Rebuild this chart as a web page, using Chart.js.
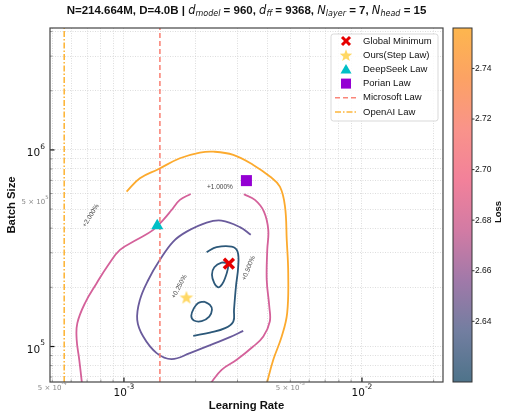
<!DOCTYPE html>
<html>
<head>
<meta charset="utf-8">
<script src="https://cdn.jsdelivr.net/npm/chart.js@4.4.0/dist/chart.umd.min.js"></script>
<style>
  body { margin: 0; background: #fff; }
  #wrap { position: relative; width: 505px; height: 418px; }
  #title { position: absolute; left: 50px; width: 393px; top: 3px; text-align: center; white-space: nowrap;
           font: bold 11.5px "Liberation Sans", Arial, sans-serif; color: #111; }
  #title i { font-family: "DejaVu Sans", sans-serif; font-weight: normal; }
  #title sub { font-size: 8px; vertical-align: -2px; line-height: 0; }
  canvas { position: absolute; left: 0; top: 0; }
</style>
</head>
<body>
<div id="wrap">
  <canvas id="chart" width="505" height="418"></canvas>
  <div id="title">N=214.664M, D=4.0B | <i>d</i><sub><i>model</i></sub> = 960, <i>d</i><sub><i>ff</i></sub> = 9368, <i>N</i><sub><i>layer</i></sub> = 7, <i>N</i><sub><i>head</i></sub> = 15</div>
</div>
<script>
// ---------- AXES ----------
const xRange = [4.89e-4, 2.19e-2];
const yRange = [6.6e4, 4.17e6];
const xGridTicks = [5e-4, 6e-4, 7e-4, 8e-4, 9e-4, 1e-3, 2e-3, 3e-3, 4e-3, 5e-3, 6e-3, 7e-3, 8e-3, 9e-3, 1e-2, 2e-2];
const yGridTicks = [7e4, 8e4, 9e4, 1e5, 2e5, 3e5, 4e5, 5e5, 6e5, 7e5, 8e5, 9e5, 1e6, 2e6, 3e6, 4e6];
const xMajorTicks = [1e-3, 1e-2];
const yMajorTicks = [1e5, 1e6];
const xMinorLabels = [5e-4, 5e-3];
const yMinorLabels = [5e5];

// ---------- COLORBAR ----------
const lossRange = [2.616, 2.756];
const lossTicks = [2.64, 2.66, 2.68, 2.70, 2.72, 2.74];

// ---------- CONTOURS (learning rate / batch size) ----------
const lr2pct = [1.026e-3, 1.167e-3, 1.393e-3, 1.718e-3, 2.085e-3, 2.372e-3, 2.879e-3, 3.493e-3, 4.105e-3, 4.52e-3, 4.75e-3, 4.83e-3, 4.9e-3, 4.85e-3, 4.6e-3, 4.24e-3, 3.97e-3];
const bs2pct = [6.14e5, 7.18e5, 7.98e5, 9.07e5, 9.69e5, 9.8e5, 9.44e5, 8.39e5, 7.32e5, 6.5e5, 5.15e5, 3.49e5, 2.36e5, 1.479e5, 1.124e5, 8.56e4, 6.4e4];

const lr1pctLeft = [1.906e-3, 1.718e-3, 1.586e-3, 1.463e-3, 1.328e-3, 1.13e-3, 9.62e-4, 8.59e-4, 7.68e-4, 6.86e-4, 6.37e-4, 6.33e-4, 6.49e-4, 6.67e-4];
const bs1pctLeft = [5.97e5, 5.57e5, 4.95e5, 4.41e5, 3.92e5, 3.49e5, 3.1e5, 2.6e5, 2.1e5, 1.663e5, 1.315e5, 1.082e5, 8.56e4, 6.4e4];
const lr1pctRight = [3.19e-3, 3.55e-3, 3.874e-3, 4.04e-3, 4.0e-3, 3.98e-3, 4.08e-3, 4.1e-3, 3.85e-3, 3.49e-3, 2.976e-3, 2.572e-3, 2.29e-3];
const bs1pctRight = [5.95e5, 5.57e5, 4.86e5, 3.92e5, 3.1e5, 2.18e5, 1.597e5, 1.34e5, 1.124e5, 1.0e5, 8.56e4, 7.61e4, 6.4e4];

const lr05pct = [3.41e-3, 3.07e-3, 2.57e-3, 2.225e-3, 1.834e-3, 1.611e-3, 1.416e-3, 1.265e-3, 1.167e-3, 1.137e-3, 1.205e-3, 1.372e-3, 1.586e-3, 1.893e-3, 2.372e-3, 2.787e-3, 3.17e-3];
const bs05pct = [3.7e5, 4.05e5, 4.37e5, 4.27e5, 3.84e5, 3.42e5, 2.76e5, 2.18e5, 1.727e5, 1.367e5, 1.124e5, 9.26e4, 8.63e4, 9.26e4, 1.032e5, 1.116e5, 1.202e5];

const lr025pct = [2.225e-3, 2.45e-3, 2.835e-3, 3.0e-3, 3.02e-3, 2.955e-3, 2.9e-3, 2.88e-3, 2.66e-3, 2.297e-3, 1.955e-3];
const bs025pct = [3.02e5, 3.2e5, 3.22e5, 3.04e5, 2.55e5, 2.02e5, 1.537e5, 1.34e5, 1.24e5, 1.178e5, 1.133e5];

const lrInnerA = [2.743e-3, 2.572e-3, 2.396e-3, 2.343e-3, 2.396e-3, 2.49e-3, 2.588e-3, 2.675e-3, 2.73e-3, 2.743e-3];
const bsInnerA = [2.65e5, 2.67e5, 2.53e5, 2.315e5, 2.1e5, 2.0e5, 2.08e5, 2.27e5, 2.475e5, 2.65e5];
const lrInnerB = [2.168e-3, 2.297e-3, 2.343e-3, 2.282e-3, 2.121e-3, 1.968e-3, 1.918e-3, 1.968e-3, 2.051e-3, 2.168e-3];
const bsInnerB = [1.693e5, 1.63e5, 1.537e5, 1.42e5, 1.346e5, 1.356e5, 1.432e5, 1.567e5, 1.663e5, 1.693e5];

const levelLabels = ['+0.250%', '+0.500%', '+1.000%', '+2.000%'];
const levelLabelLR = [1.708e-3, 3.34e-3, 2.53e-3, 7.25e-4];
const levelLabelBS = [2.02e5, 2.505e5, 6.46e5, 4.63e5];

// ---------- MARKERS / LAWS ----------
const markerNames = ['Global Minimum', 'Ours(Step Law)', 'DeepSeek Law', 'Porian Law'];
const markerLR = [2.76e-3, 1.83e-3, 1.38e-3, 3.27e-3];
const markerBS = [2.64e5, 1.78e5, 4.12e5, 6.98e5];
const lawNames = ['Microsoft Law', 'OpenAI Law'];
const lawLR = [1.416e-3, 5.61e-4];

// ---------- STYLES ----------
const COL_2 = '#FCAA2E', COL_1 = '#D4619A', COL_05 = '#6A5B9C', COL_025 = '#2C5879';
const MS_COLOR = 'rgba(250,128,114,0.95)', OA_COLOR = '#FDB63C';
const MS_DASH = [5, 3], OA_DASH = [6, 2, 1.5, 2];
const labelAngles = [-62, -68, 0, -58];

function starPath(ctx, cx, cy, R, r) {
  ctx.beginPath();
  for (let i = 0; i < 10; i++) {
    const ang = -Math.PI / 2 + i * Math.PI / 5;
    const rad = i % 2 ? r : R;
    ctx.lineTo(cx + rad * Math.cos(ang), cy + rad * Math.sin(ang));
  }
  ctx.closePath();
}
const starImg = document.createElement('canvas');
starImg.width = 16; starImg.height = 16;
const sctx = starImg.getContext('2d');
sctx.fillStyle = '#FFD865';
starPath(sctx, 8, 8.6, 7.2, 3.0);
sctx.fill();

const markerStyles = [
  { pointStyle: 'crossRot', pointRadius: 7, pointBorderColor: '#E60000', pointBorderWidth: 3.5, pointBackgroundColor: '#E60000' },
  { pointStyle: starImg, pointRadius: 8 },
  { pointStyle: 'triangle', pointRadius: 7, pointBackgroundColor: '#00BFC6', pointBorderColor: '#00BFC6', pointBorderWidth: 0 },
  { pointStyle: 'rect', pointRadius: 7.8, pointBackgroundColor: '#9400D3', pointBorderColor: '#9400D3', pointBorderWidth: 0 }
];

const toPts = (lr, bs) => lr.map((v, i) => ({ x: v, y: bs[i] }));
function contour(lr, bs, color) {
  return { data: toPts(lr, bs), showLine: true, borderColor: color, borderWidth: 1.8,
           pointRadius: 0, tension: 0.4, fill: false, order: 3 };
}

const datasets = [
  contour(lr2pct, bs2pct, COL_2),
  contour(lr1pctLeft, bs1pctLeft, COL_1),
  contour(lr1pctRight, bs1pctRight, COL_1),
  contour(lr05pct, bs05pct, COL_05),
  contour(lr025pct, bs025pct, COL_025),
  contour(lrInnerA, bsInnerA, COL_025),
  contour(lrInnerB, bsInnerB, COL_025),
  { label: lawNames[0], data: [{ x: lawLR[0], y: yRange[0] }, { x: lawLR[0], y: yRange[1] }], showLine: true,
    borderColor: MS_COLOR, borderWidth: 1.6, borderDash: MS_DASH, pointRadius: 0, order: 2 },
  { label: lawNames[1], data: [{ x: lawLR[1], y: yRange[0] }, { x: lawLR[1], y: yRange[1] }], showLine: true,
    borderColor: OA_COLOR, borderWidth: 1.6, borderDash: OA_DASH, pointRadius: 0, order: 2 }
];
markerNames.forEach((name, i) => {
  datasets.push(Object.assign({ label: name, data: [{ x: markerLR[i], y: markerBS[i] }], order: 1 }, markerStyles[i]));
});

// ---------- DRAW HELPERS ----------
function powLabel(ctx, mant, exp, x, y, size, expSize, align, color) {
  const baseFont = size + 'px "DejaVu Sans"';
  const expFont = expSize + 'px "DejaVu Sans"';
  ctx.font = baseFont;
  const wb = ctx.measureText(mant).width;
  ctx.font = expFont;
  const we = ctx.measureText(exp).width;
  const w = wb + we;
  const x0 = align === 'center' ? x - w / 2 : x - w;
  ctx.fillStyle = color;
  ctx.textAlign = 'left';
  ctx.textBaseline = 'alphabetic';
  ctx.font = baseFont;
  ctx.fillText(mant, x0, y);
  ctx.font = expFont;
  ctx.fillText(exp, x0 + wb, y - size * 0.7);
}
const expOf = v => String(Math.round(Math.log10(v)));

const decor = {
  id: 'decor',
  afterDatasetsDraw(chart) {
    const { ctx, scales: { x, y } } = chart;
    ctx.save();
    ctx.font = '6.5px "Liberation Sans", Arial';
    ctx.fillStyle = '#444';
    ctx.textAlign = 'center';
    ctx.textBaseline = 'middle';
    levelLabels.forEach((t, i) => {
      ctx.save();
      ctx.translate(x.getPixelForValue(levelLabelLR[i]), y.getPixelForValue(levelLabelBS[i]));
      ctx.rotate(labelAngles[i] * Math.PI / 180);
      ctx.fillText(t, 0, 0);
      ctx.restore();
    });
    ctx.restore();
  },
  afterDraw(chart) {
    const { ctx, chartArea: a, scales: { x, y, cb } } = chart;
    ctx.save();
    const line = (x1, y1, x2, y2) => { ctx.beginPath(); ctx.moveTo(x1, y1); ctx.lineTo(x2, y2); ctx.stroke(); };

    // inward tick marks
    xGridTicks.forEach(v => {
      const px = x.getPixelForValue(v), major = xMajorTicks.includes(v);
      ctx.strokeStyle = major ? '#111' : '#777';
      ctx.lineWidth = major ? 1.2 : 0.7;
      line(px, a.bottom, px, a.bottom - (major ? 4.5 : 2.5));
    });
    yGridTicks.forEach(v => {
      const py = y.getPixelForValue(v), major = yMajorTicks.includes(v);
      ctx.strokeStyle = major ? '#111' : '#777';
      ctx.lineWidth = major ? 1.2 : 0.7;
      line(a.left, py, a.left + (major ? 4.5 : 2.5), py);
    });

    // frame
    ctx.strokeStyle = '#444';
    ctx.lineWidth = 1.2;
    ctx.strokeRect(a.left, a.top, a.width, a.height);

    // tick labels
    xMajorTicks.forEach(v => powLabel(ctx, '10', expOf(v), x.getPixelForValue(v), a.bottom + 14, 10.5, 7.5, 'center', '#111'));
    xMinorLabels.forEach(v => powLabel(ctx, '5 \u00d7 10', expOf(v / 5), x.getPixelForValue(v), a.bottom + 7.5, 7, 5.3, 'center', '#888'));
    yMajorTicks.forEach(v => powLabel(ctx, '10', expOf(v), a.left - 5, y.getPixelForValue(v) + 6, 10.5, 7.5, 'right', '#111'));
    yMinorLabels.forEach(v => powLabel(ctx, '5 \u00d7 10', expOf(v / 5), a.left - 1.5, y.getPixelForValue(v) - 5.5, 7, 5.3, 'right', '#888'));

    // axis titles
    ctx.fillStyle = '#111';
    ctx.font = 'bold 11.3px "Liberation Sans", Arial';
    ctx.textAlign = 'center';
    ctx.textBaseline = 'middle';
    ctx.fillText('Learning Rate', (a.left + a.right) / 2, a.bottom + 24);
    ctx.save();
    ctx.translate(12, (a.top + a.bottom) / 2);
    ctx.rotate(-Math.PI / 2);
    ctx.fillText('Batch Size', 0, 0);
    ctx.restore();

    // colorbar
    const cbL = a.right + 10, cbW = 19;
    const yTop = cb.getPixelForValue(lossRange[1]), yBot = cb.getPixelForValue(lossRange[0]);
    const g = ctx.createLinearGradient(0, yTop, 0, yBot);
    const stops = ['#FDB64E', '#FCA264', '#F9938A', '#F2819A', '#D27BA4', '#A079A9', '#727EA0', '#4E738A'];
    stops.forEach((c, i) => g.addColorStop(i / (stops.length - 1), c));
    ctx.fillStyle = g;
    ctx.fillRect(cbL, yTop, cbW, yBot - yTop);
    ctx.strokeStyle = '#333';
    ctx.lineWidth = 1;
    ctx.strokeRect(cbL, yTop, cbW, yBot - yTop);
    ctx.font = '8.5px "Liberation Sans", Arial';
    ctx.textAlign = 'left';
    ctx.textBaseline = 'middle';
    ctx.fillStyle = '#111';
    lossTicks.forEach(v => {
      const py = cb.getPixelForValue(v);
      line(cbL + cbW, py, cbL + cbW + 2.5, py);
      ctx.fillText(v.toFixed(2), cbL + cbW + 3, py);
    });
    ctx.save();
    ctx.font = 'bold 9.5px "Liberation Sans", Arial';
    ctx.textAlign = 'center';
    ctx.translate(498, (a.top + a.bottom) / 2 + 7);
    ctx.rotate(-Math.PI / 2);
    ctx.fillText('Loss', 0, 0);
    ctx.restore();

    // legend
    const lx = a.right - 112, ly = a.top + 6, lw = 107, lh = 87;
    ctx.fillStyle = 'rgba(255,255,255,0.85)';
    ctx.strokeStyle = '#cfcfcf';
    ctx.lineWidth = 0.8;
    ctx.beginPath();
    ctx.roundRect(lx, ly, lw, lh, 2.5);
    ctx.fill();
    ctx.stroke();
    const names = markerNames.concat(lawNames);
    const sx = lx + 15, tx = lx + 32;
    names.forEach((name, i) => {
      const ry = ly + 7 + i * 14.2;
      ctx.save();
      if (i === 0) {
        ctx.strokeStyle = '#E60000'; ctx.lineWidth = 3;
        line(sx - 4, ry - 4, sx + 4, ry + 4); line(sx - 4, ry + 4, sx + 4, ry - 4);
      } else if (i === 1) {
        ctx.fillStyle = '#FFD865'; starPath(ctx, sx, ry + 0.6, 6.5, 2.7); ctx.fill();
      } else if (i === 2) {
        ctx.fillStyle = '#00BFC6'; ctx.beginPath();
        ctx.moveTo(sx, ry - 5.5); ctx.lineTo(sx + 5.5, ry + 4); ctx.lineTo(sx - 5.5, ry + 4); ctx.closePath(); ctx.fill();
      } else if (i === 3) {
        ctx.fillStyle = '#9400D3'; ctx.fillRect(sx - 5, ry - 5, 10, 10);
      } else {
        ctx.strokeStyle = i === 4 ? MS_COLOR : OA_COLOR;
        ctx.lineWidth = 1.6;
        ctx.setLineDash(i === 4 ? MS_DASH : OA_DASH);
        line(sx - 11, ry, sx + 11, ry);
      }
      ctx.restore();
      ctx.fillStyle = '#111';
      ctx.font = '9.5px "Liberation Sans", Arial';
      ctx.textAlign = 'left';
      ctx.textBaseline = 'middle';
      ctx.fillText(name, tx, ry);
    });
    ctx.restore();
  }
};

// ---------- CHART ----------
new Chart(document.getElementById('chart'), {
  type: 'scatter',
  data: { datasets },
  options: {
    responsive: false,
    animation: false,
    layout: { padding: { left: 50, right: 62, top: 28, bottom: 36 } },
    plugins: { legend: { display: false }, tooltip: { enabled: false } },
    scales: {
      x: {
        type: 'logarithmic', min: xRange[0], max: xRange[1],
        afterBuildTicks: s => { s.ticks = xGridTicks.map(v => ({ value: v })); },
        ticks: { display: false },
        grid: { color: '#cfcfcf', lineWidth: 0.7, drawTicks: false },
        border: { display: false, dash: [1, 1.5] }
      },
      y: {
        type: 'logarithmic', min: yRange[0], max: yRange[1],
        afterBuildTicks: s => { s.ticks = yGridTicks.map(v => ({ value: v })); },
        ticks: { display: false },
        grid: { color: '#cfcfcf', lineWidth: 0.7, drawTicks: false },
        border: { display: false, dash: [1, 1.5] }
      },
      cb: { type: 'linear', display: false, position: 'right', min: lossRange[0], max: lossRange[1] }
    }
  },
  plugins: [decor]
});
</script>
</body>
</html>
